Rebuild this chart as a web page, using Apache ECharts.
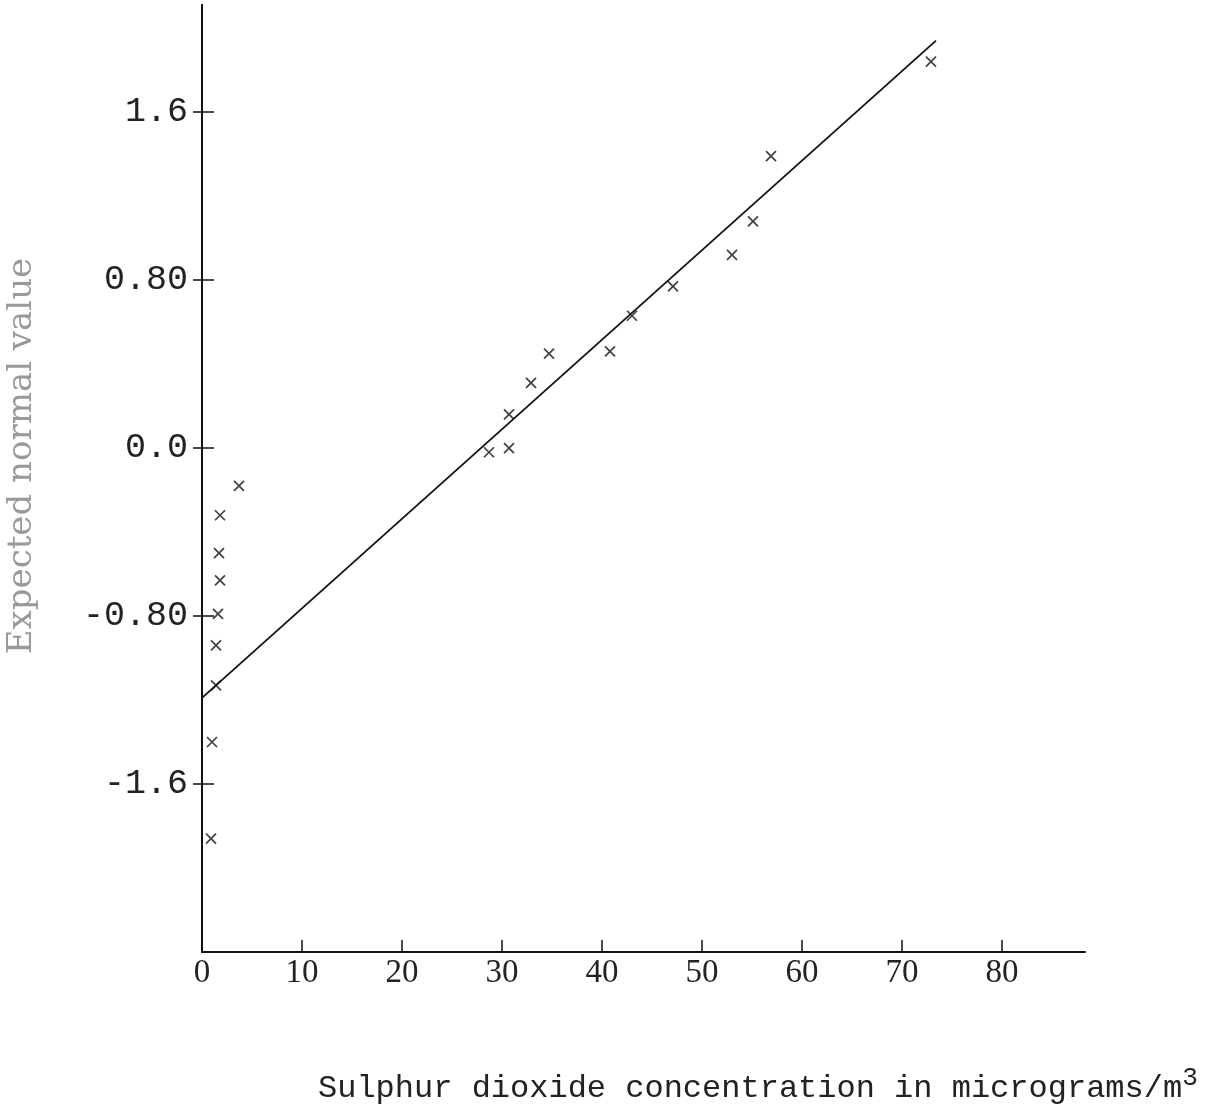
<!DOCTYPE html>
<html>
<head>
<meta charset="utf-8">
<script src="https://cdn.jsdelivr.net/npm/echarts@6/dist/echarts.min.js"></script>
<style>html,body{margin:0;padding:0;background:#fff}#c{width:1227px;height:1113px}</style>
</head>
<body>
<div id="c"></div>
<script>
// Observations: [SO2 concentration, expected normal value]
const so2Values = [3.7, 1.8, 1.7, 1.8, 1.6, 1.4, 1.4, 1.0, 0.9,
  28.7, 30.7, 30.7, 32.9, 34.7, 40.8, 43.0, 47.1, 53.0, 55.1, 56.9, 72.9];
const normalValues = [-0.18, -0.32, -0.50, -0.63, -0.79, -0.94, -1.13, -1.40, -1.86,
  -0.02, 0.00, 0.16, 0.31, 0.45, 0.46, 0.63, 0.77, 0.92, 1.08, 1.39, 1.84];
// Fitted line end points
const fitX = [0, 73.4];
const fitY = [-1.19, 1.94];
const xTicks = [10, 20, 30, 40, 50, 60, 70, 80];
const xLabels = [0, 10, 20, 30, 40, 50, 60, 70, 80];
const yTicks = [-1.6, -0.8, 0, 0.8, 1.6];
const yLabelText = {'-1.6': '-1.6', '-0.8': '-0.80', '0': '0.0', '0.8': '0.80', '1.6': '1.6'};

const scatterData = so2Values.map((x, i) => [x, normalValues[i]]);
const lineData = fitX.map((x, i) => [x, fitY[i]]);

const chart = echarts.init(document.getElementById('c'));
const axisCommon = {
  type: 'value', min: -2.4, max: 2.11, interval: 0.8,
  splitLine: {show: false},
  axisLine: {show: true, onZero: false, lineStyle: {color: '#111', width: 2}}
};
chart.setOption({
  animation: false,
  backgroundColor: '#fff',
  grid: {left: 202, right: 1227 - 1085, top: 5, bottom: 1113 - 952, containLabel: false},
  xAxis: {
    type: 'value', min: 0, max: 88.3,
    splitLine: {show: false},
    axisLine: {onZero: false, lineStyle: {color: '#111', width: 2}},
    axisTick: {show: true, inside: true, length: 12, customValues: xTicks, lineStyle: {color: '#111', width: 1.5}},
    axisLabel: {customValues: xLabels, margin: 5, fontFamily: 'Liberation Serif', fontSize: 33, color: '#222',
      formatter: v => String(v)}
  },
  yAxis: [
    Object.assign({}, axisCommon, {
      axisTick: {show: true, inside: false, length: 9, customValues: yTicks, lineStyle: {color: '#111', width: 1.5}},
      axisLabel: {customValues: yTicks, margin: 14, fontFamily: 'Liberation Mono', fontSize: 35, color: '#222',
        formatter: v => yLabelText[String(Math.round(v * 10) / 10)] || ''}
    }),
    Object.assign({}, axisCommon, {
      position: 'left',
      axisTick: {show: true, inside: true, length: 12, customValues: yTicks, lineStyle: {color: '#111', width: 1.5}},
      axisLabel: {show: false}
    })
  ],
  title: {
    text: '{t|Sulphur dioxide concentration in micrograms/m}{s|3}',
    left: 313, top: 1060,
    textStyle: {
      fontWeight: 'normal',
      rich: {
        t: {fontFamily: 'Liberation Mono', fontSize: 32, fontWeight: 'normal', color: '#222', verticalAlign: 'bottom', lineHeight: 40},
        s: {fontFamily: 'Liberation Mono', fontSize: 26, fontWeight: 'normal', color: '#222', verticalAlign: 'top', padding: [0, 0, 22, 0], lineHeight: 40}
      }
    }
  },
  graphic: [{
    type: 'text', x: 22, y: 456, rotation: Math.PI / 2,
    style: {text: 'Expected normal value', font: '34px "DejaVu Serif"', fill: '#999', align: 'center', verticalAlign: 'middle'}
  }],
  series: [
    {
      type: 'line', data: lineData, symbol: 'none', xAxisIndex: 0, yAxisIndex: 0,
      lineStyle: {color: '#111', width: 1.8}, z: 2
    },
    {
      type: 'scatter', data: scatterData, xAxisIndex: 0, yAxisIndex: 0,
      symbol: 'path://M0,0L10,10M10,0L0,10', symbolSize: 10,
      itemStyle: {color: 'none', borderColor: '#111', borderWidth: 1.7}, z: 3
    }
  ]
});
</script>
</body>
</html>
